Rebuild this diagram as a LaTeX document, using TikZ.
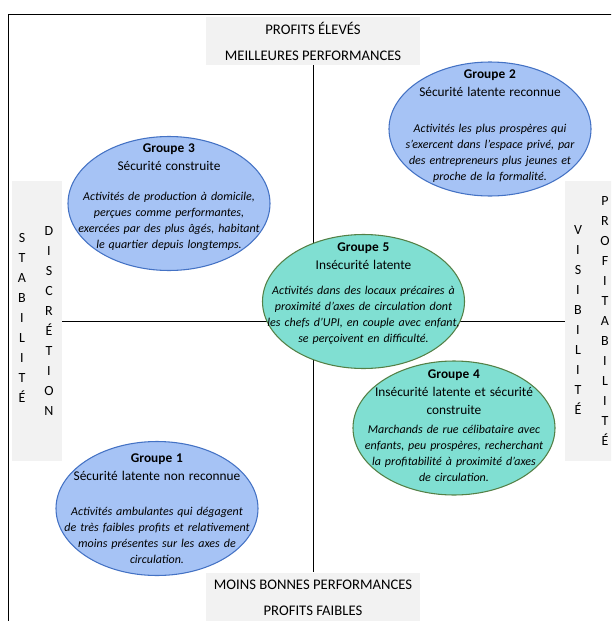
\documentclass[tikz,border=0pt]{standalone}
\usepackage{fontspec}
\setmainfont{Carlito}
\usetikzlibrary{positioning, shapes.geometric}
\definecolor{grpblue}{RGB}{166,195,245}
\definecolor{grpblueline}{RGB}{68,114,196}
\definecolor{grpteal}{RGB}{128,223,210}
\definecolor{grptealline}{RGB}{84,128,70}
\definecolor{labelgray}{RGB}{242,242,242}
\newcommand{\titlefont}{\fontsize{10}{13.5}\selectfont}

\begin{document}
\begin{tikzpicture}
		[x=0.75pt,y=-0.75pt,
		axisbox/.style={rectangle,fill=labelgray,inner sep=0pt,align=center,font=\fontsize{11}{19.5}\selectfont},
		letters/.style={inner sep=0pt,align=center,font=\fontsize{10.5}{15}\selectfont},
		group/.style={ellipse,line width=0.8pt,inner sep=0pt,minimum width=151.5pt,minimum height=100.5pt},
		bluegroup/.style={group,draw=grpblueline,fill=grpblue},
		tealgroup/.style={group,draw=grptealline,fill=grpteal},
		grouptext/.style={inner sep=0pt,text width=6cm,align=center,font=\fontsize{9}{12}\selectfont}]
		\useasboundingbox (0,0) rectangle (611,621);
		\clip (0,0) rectangle (611,621);
		\draw[line width=0.6pt] (8,640) -- (8,14) -- (640,14);
		
		% axes labels
		\node[axisbox,minimum width=161pt,minimum height=36pt] (topbox) at (313,41) {PROFITS ÉLEVÉS\\MEILLEURES PERFORMANCES};
		\node[axisbox,minimum width=161pt,minimum height=38pt] (bottombox) at (313,598) {MOINS BONNES PERFORMANCES\\PROFITS FAIBLES};
		\node[axisbox,minimum width=37.5pt,minimum height=210pt] (leftbox) at (37,321) {};
		\node[axisbox,minimum width=45pt,minimum height=210pt] (rightbox) at (595,321) {};
		\node[letters] (stabilite) at (22,318) {S\\T\\A\\B\\I\\L\\I\\T\\É};
		\node[letters] (discretion) at (49,321) {D\\I\\S\\C\\R\\É\\T\\I\\O\\N};
		\node[letters] (visibilite) at (578,320) {V\\I\\S\\I\\B\\I\\L\\I\\T\\É};
		\node[letters] (profitabilite) at (605,321) {P\\R\\O\\F\\I\\T\\A\\B\\I\\L\\I\\T\\É};
		
		\draw[line width=0.6pt] (topbox.south) -- (bottombox.north);
		\draw[line width=0.6pt] (leftbox.east) -- (rightbox.west);
		
		% groups
		\node[bluegroup] (g2) at (490,129) {};
		\node[grouptext,yshift=2pt] (g2text) at (g2) {{\titlefont\textbf{Groupe 2}\\Sécurité latente reconnue\par}\vspace{15pt}
			\textit{Activités les plus prospères qui\\s’exercent dans l’espace privé, par\\des entrepreneurs plus jeunes et\\proche de la formalité.}};
		
		\node[bluegroup] (g3) at (169,203.5) {};
		\node[grouptext,yshift=4.5pt] (g3text) at (g3) {{\titlefont\textbf{Groupe 3}\\Sécurité construite\par}\vspace{10.5pt}
			\textit{Activités de production à domicile,\\perçues comme performantes,\\exercées par des plus âgés, habitant\\le quartier depuis longtemps.}};
		
		\node[tealgroup] (g5) at (363.5,301.5) {};
		\node[grouptext,yshift=6pt] (g5text) at (g5) {{\titlefont\textbf{Groupe 5}\\Insécurité latente\par}\vspace{6.75pt}
			\textit{Activités dans des locaux précaires à\\proximité d’axes de circulation dont\\les chefs d’UPI, en couple avec enfant,\\se perçoivent en difficulté.}};
		
		\node[tealgroup] (g4) at (454,428) {};
		\node[grouptext,yshift=1.5pt] (g4text) at (g4) {{\titlefont\textbf{Groupe 4}\\Insécurité latente et sécurité\\construite\par}\vspace{2.25pt}
			\textit{Marchands de rue célibataire avec\\enfants, peu prospères, recherchant\\la profitabilité à proximité d’axes\\de circulation.}};
		
		\node[bluegroup] (g1) at (157,508.5) {};
		\node[grouptext] (g1text) at (g1) {{\titlefont\textbf{Groupe 1}\\Sécurité latente non reconnue\par}\vspace{14.25pt}
			\textit{Activités ambulantes qui dégagent\\de très faibles profits et relativement\\moins présentes sur les axes de\\circulation.}};
		
	\end{tikzpicture}
\end{document}
